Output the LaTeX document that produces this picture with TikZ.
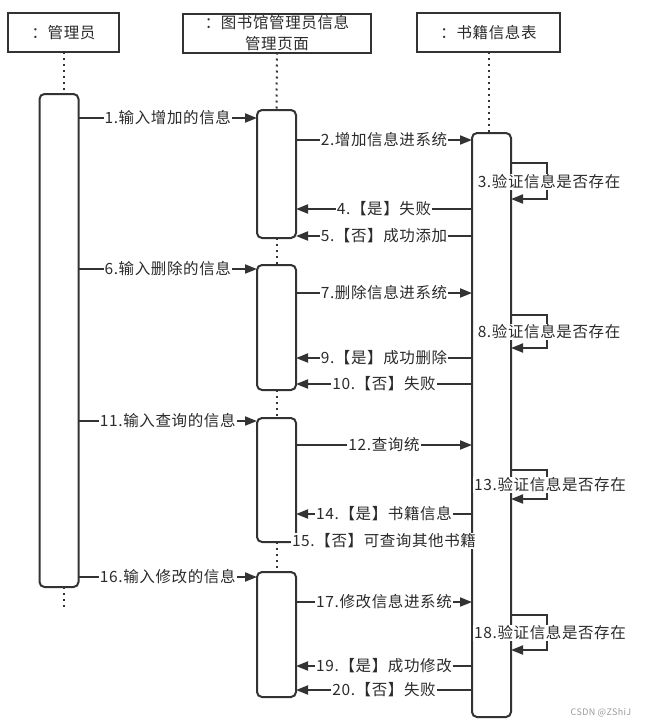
\documentclass[tikz,border=0pt]{standalone}
\usepackage{fontspec}
\setmainfont{Noto Sans CJK SC}[LetterSpace=4]
\usetikzlibrary{arrows.meta,backgrounds}
\definecolor{ln}{HTML}{333333}
\definecolor{tx}{HTML}{2B2B2B}
\begin{document}
\begin{tikzpicture}[x=1pt,y=-1pt,
  font=\fontsize{15.5}{20.5}\selectfont, text=tx,
  head/.style={draw=ln, line width=2pt, rectangle, inner sep=0pt, outer sep=0pt, minimum height=39pt, align=center},
  act/.style={draw=ln, line width=2pt, fill=white, rounded corners=5pt, rectangle, inner sep=0pt, outer sep=0pt, minimum width=39pt},
  life/.style={draw=ln, line width=2pt, dash pattern=on 2pt off 4pt},
  msg/.style={draw=ln, line width=1.8pt, -{Triangle[length=12pt,width=9pt]}},
  lbl/.style={fill=white, inner sep=1pt, text=tx}
]
\useasboundingbox (0,0) rectangle (650,726);

% headers
\node[head, minimum width=111pt] (hM) at (63.5,32.5) {：管理员};
\node[head, minimum width=188pt] (hP) at (277,33) {：图书馆管理员信息\\管理页面};
\node[head, minimum width=143pt] (hT) at (488.5,32.5) {：书籍信息表};

% activation boxes
\node[act, minimum height=493pt] (mgr) at (59,340.5) {};
\node[act, minimum height=128pt] (pg1) at (276.5,174) {};
\node[act, minimum height=125pt] (pg2) at (276.5,327.5) {};
\node[act, minimum height=124pt] (pg3) at (276.5,480) {};
\node[act, minimum height=125pt] (pg4) at (276.5,634.5) {};
\node[act, minimum height=584pt] (tab) at (491.5,425) {};
\coordinate (mEnd) at (63.5,607);

% lifelines
\begin{scope}[on background layer]
\draw[life] (hM.south) -- (hM.south |- mgr.north);
\draw[life] (hM.south |- mgr.south) -- (mEnd);
\draw[life] (hP.south) -- (pg1.north);
\draw[life] (pg1.south) -- (pg2.north);
\draw[life] (pg2.south) -- (pg3.north);
\draw[life] (pg3.south) -- (pg4.north);
\draw[life] (hT.south) -- (hT.south |- tab.north);
\end{scope}

% group 1
\draw[msg] (mgr.east |- 0,118) -- node[lbl]{1.输入增加的信息} (pg1.west |- 0,118);
\draw[msg] (pg1.east |- 0,140) -- node[lbl]{2.增加信息进系统} (tab.west |- 0,140);
\draw[msg] (tab.east |- 0,163) -- ++(36,0) -- ++(0,36) -- (tab.east |- 0,199);
\draw[msg] (tab.west |- 0,209) -- node[lbl]{4.【是】失败} (pg1.east |- 0,209);
\draw[msg] (tab.west |- 0,236) -- node[lbl]{5.【否】成功添加} (pg1.east |- 0,236);

% group 2
\draw[msg] (mgr.east |- 0,269) -- node[lbl]{6.输入删除的信息} (pg2.west |- 0,269);
\draw[msg] (pg2.east |- 0,293) -- node[lbl]{7.删除信息进系统} (tab.west |- 0,293);
\draw[msg] (tab.east |- 0,315) -- ++(36,0) -- ++(0,33) -- (tab.east |- 0,348);
\draw[msg] (tab.west |- 0,358) -- node[lbl]{9.【是】成功删除} (pg2.east |- 0,358);
\draw[msg] (tab.west |- 0,384) -- node[lbl]{10.【否】失败} (pg2.east |- 0,384);

% group 3
\draw[msg] (mgr.east |- 0,421) -- node[lbl]{11.输入查询的信息} (pg3.west |- 0,421);
\draw[msg] (pg3.east |- 0,445) -- node[lbl]{12.查询统} (tab.west |- 0,445);
\draw[msg] (tab.east |- 0,470) -- ++(36,0) -- ++(0,29) -- (tab.east |- 0,499);
\draw[msg] (tab.west |- 0,514) -- node[lbl]{14.【是】书籍信息} (pg3.east |- 0,514);
\draw[msg] (tab.west |- 0,541) -- node[lbl]{15.【否】可查询其他书籍} (pg3.east |- 0,541);

% group 4
\draw[msg] (mgr.east |- 0,577) -- node[lbl]{16.输入修改的信息} (pg4.west |- 0,577);
\draw[msg] (pg4.east |- 0,602) -- node[lbl]{17.修改信息进系统} (tab.west |- 0,602);
\draw[msg] (tab.east |- 0,615) -- ++(36,0) -- ++(0,35) -- (tab.east |- 0,650);
\draw[msg] (tab.west |- 0,666) -- node[lbl]{19.【是】成功修改} (pg4.east |- 0,666);
\draw[msg] (tab.west |- 0,690) -- node[lbl]{20.【否】失败} (pg4.east |- 0,690);

% self-call labels
\node[lbl] (l3) at (549,182) {3.验证信息是否存在};
\node[lbl] (l8) at (549,332) {8.验证信息是否存在};
\node[lbl] (l13) at (550,485) {13.验证信息是否存在};
\node[lbl] (l18) at (550,633) {18.验证信息是否存在};

% watermark
\node[font=\fontsize{9}{10}\selectfont, text=gray!80] (wm) at (601,713) {CSDN @ZShiJ};
\end{tikzpicture}
\end{document}
